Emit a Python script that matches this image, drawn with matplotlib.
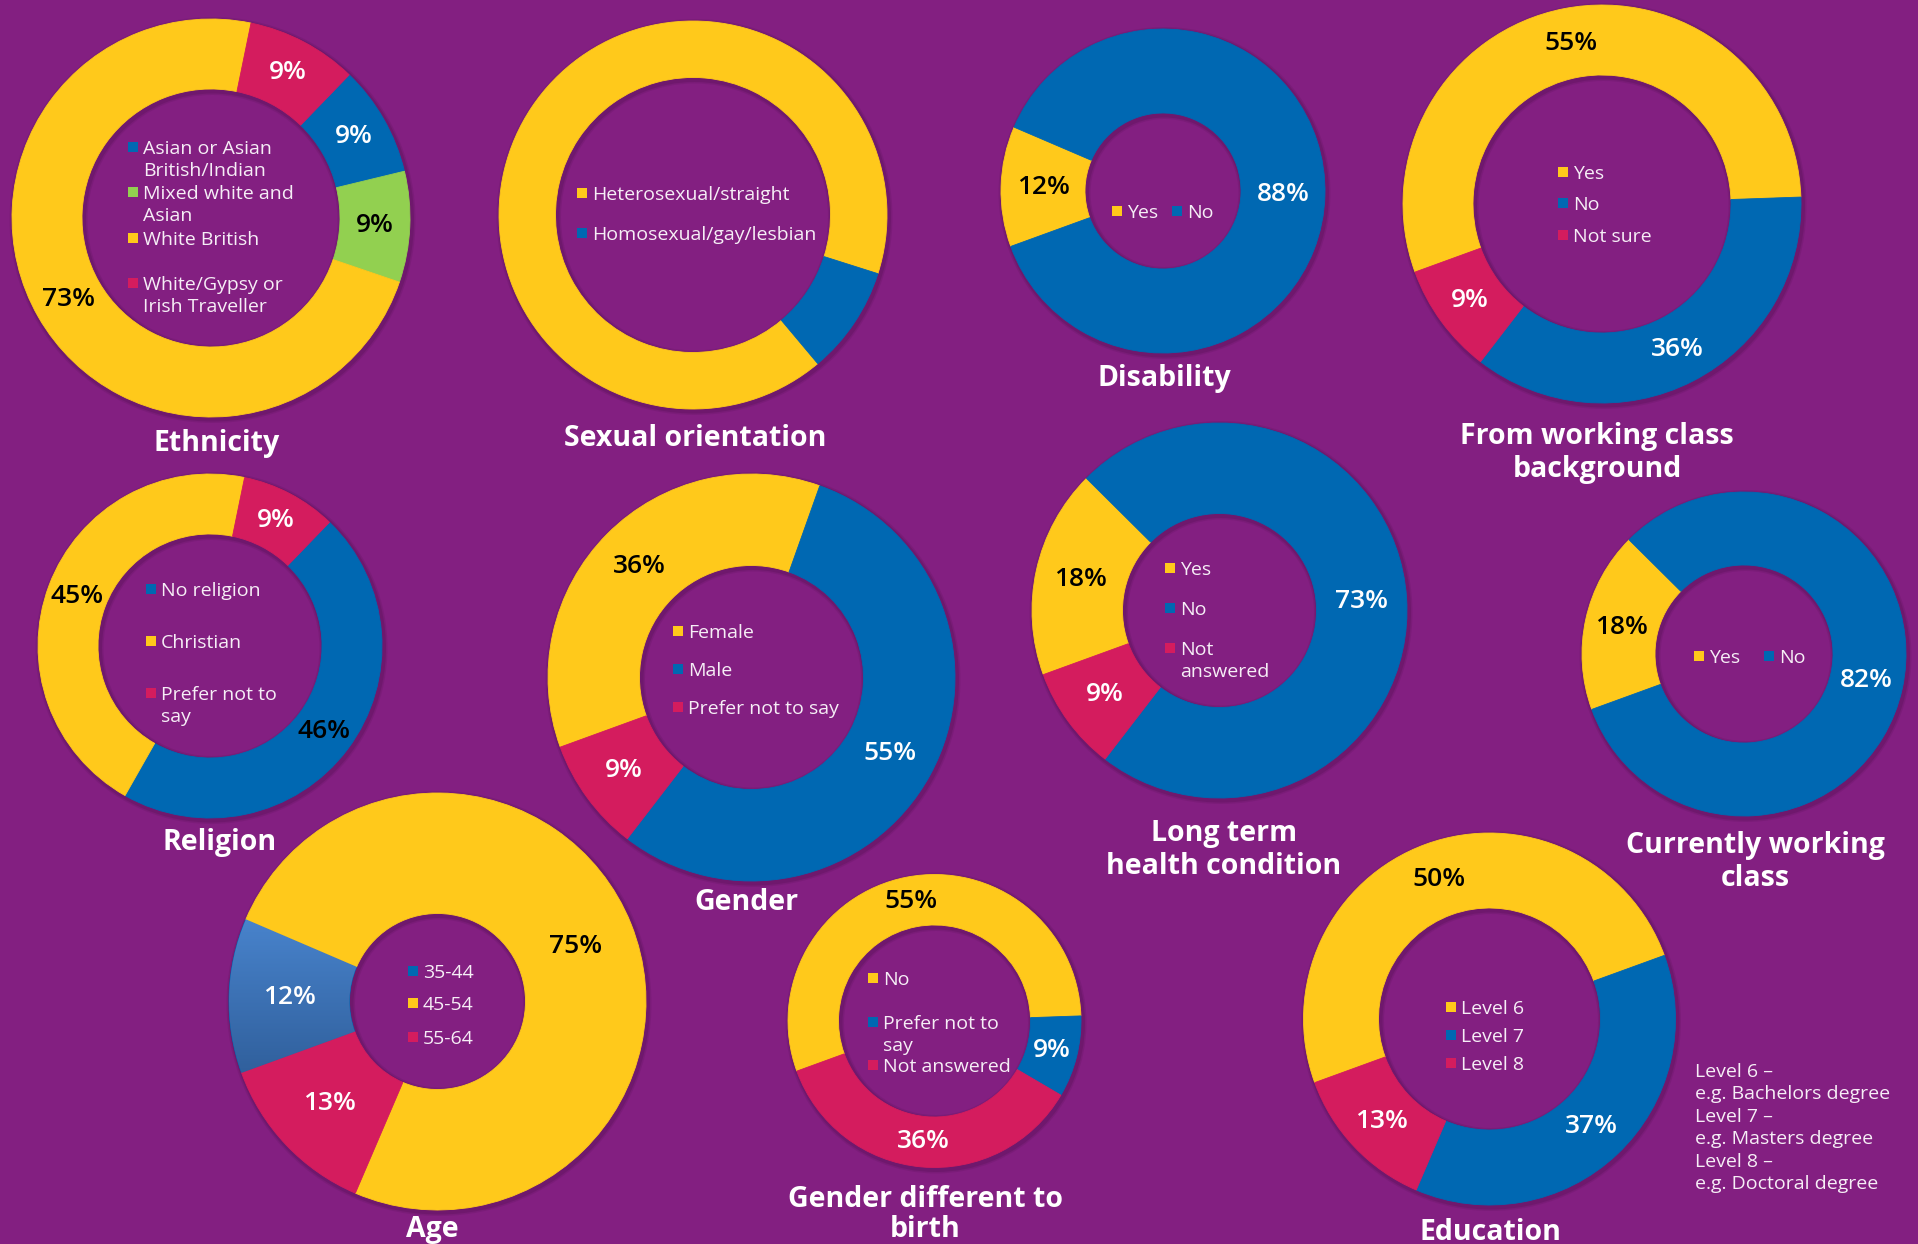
import numpy as np
import matplotlib
matplotlib.use("Agg")
import matplotlib.pyplot as plt
from matplotlib.patches import Rectangle, Wedge
from matplotlib.colors import LinearSegmentedColormap

plt.rcParams['font.family'] = ['Open Sans', 'DejaVu Sans']

W, H = 1918, 1244
BG = '#831f81'
YELLOW = '#ffc91b'
BLUE = '#0068b2'
RED = '#d41c5e'
GREEN = '#92d050'
TXT = '#f6eef6'

# ---- data (percent shares) ----
ethnicity_cats = ['Asian or Asian\nBritish/Indian', 'Mixed white and\nAsian', 'White British',
                  'White/Gypsy or\nIrish Traveller']
ethnicity_vals = [9, 9, 73, 9]

sexual_cats = ['Heterosexual/straight', 'Homosexual/gay/lesbian']
sexual_vals = [91, 9]

disability_cats = ['Yes', 'No']
disability_vals = [12, 88]

wc_background_cats = ['Yes', 'No', 'Not sure']
wc_background_vals = [55, 36, 9]

religion_cats = ['No religion', 'Christian', 'Prefer not to\nsay']
religion_vals = [46, 45, 9]

gender_cats = ['Female', 'Male', 'Prefer not to say']
gender_vals = [36, 55, 9]

health_cats = ['Yes', 'No', 'Not\nanswered']
health_vals = [18, 73, 9]

wc_current_cats = ['Yes', 'No']
wc_current_vals = [18, 82]

age_cats = ['35-44', '45-54', '55-64']
age_vals = [12, 75, 13]

gender_birth_cats = ['No', 'Prefer not to\nsay', 'Not answered']
gender_birth_vals = [55, 9, 36]

education_cats = ['Level 6', 'Level 7', 'Level 8']
education_vals = [50, 37, 13]

education_note = ['Level 6 \u2013', 'e.g. Bachelors degree', 'Level 7 \u2013',
                  'e.g. Masters degree', 'Level 8 \u2013', 'e.g. Doctoral degree']

# ---- layout (pixel positions of the original) ----
charts = [
    dict(title=['Ethnicity'], cats=ethnicity_cats, vals=ethnicity_vals,
         colors=[BLUE, GREEN, YELLOW, RED], pct=['w', 'k', 'k', 'w'],
         c=(211, 218), r=199, ri=129, start=44, tx=217, ty=440,
         lx=128, ly=[147, 192, 238, 283]),
    dict(title=['Sexual orientation'], cats=sexual_cats, vals=sexual_vals,
         colors=[YELLOW, BLUE], pct=None,
         c=(693, 215), r=194, ri=137.5, start=140, tx=695, ty=435,
         lx=577, ly=[193, 233]),
    dict(title=['Disability'], cats=disability_cats, vals=disability_vals,
         colors=[YELLOW, BLUE], pct=['k', 'w'],
         c=(1163, 191), r=162, ri=78, start=250, tx=1164, ty=375,
         lx=[1112, 1172], ly=211),
    dict(title=['From working class', 'background'], cats=wc_background_cats, vals=wc_background_vals,
         colors=[YELLOW, BLUE, RED], pct=['k', 'w', 'w'],
         c=(1602, 204), r=199, ri=129, start=250, tx=1597, ty=433,
         lx=1558, ly=[172, 203, 235]),
    dict(title=['Religion'], cats=religion_cats, vals=religion_vals,
         colors=[BLUE, YELLOW, RED], pct=['k', 'k', 'w'],
         c=(210, 646), r=172, ri=112, start=44, tx=220, ty=839,
         lx=146, ly=[589, 641, 693]),
    dict(title=['Gender'], cats=gender_cats, vals=gender_vals,
         colors=[YELLOW, BLUE, RED], pct=['k', 'w', 'w'],
         c=(751.5, 677.5), r=203.5, ri=112, start=250, tx=746, ty=899,
         lx=673, ly=[631, 669, 707]),
    dict(title=['Long term', 'health condition'], cats=health_cats, vals=health_vals,
         colors=[YELLOW, BLUE, RED], pct=['k', 'w', 'w'],
         c=(1219.5, 610.5), r=187.5, ri=97, start=250, tx=1224, ty=830,
         lx=1165, ly=[568, 608, 648]),
    dict(title=['Currently working', 'class'], cats=wc_current_cats, vals=wc_current_vals,
         colors=[YELLOW, BLUE], pct=['k', 'w'],
         c=(1744, 654), r=162, ri=89, start=250, tx=1755, ty=842,
         lx=[1694, 1764], ly=656),
    dict(title=['Age'], cats=age_cats, vals=age_vals,
         colors=[BLUE, YELLOW, RED], pct=['w', 'k', 'w'],
         c=(437.5, 1001.5), r=208.5, ri=88, start=250, tx=432, ty=1226,
         lx=408, ly=[971, 1003, 1037], gradient=0),
    dict(title=['Gender different to', 'birth'], cats=gender_birth_cats, vals=gender_birth_vals,
         colors=[YELLOW, BLUE, RED], pct=['k', 'w', 'w'],
         c=(934.5, 1021), r=146.5, ri=96, start=250, tx=925, ty=1196, ts=30,
         lx=868, ly=[978, 1022, 1065]),
    dict(title=['Education'], cats=education_cats, vals=education_vals,
         colors=[YELLOW, BLUE, RED], pct=['k', 'w', 'w'],
         c=(1489.5, 1019), r=186, ri=111, start=250, tx=1490, ty=1229,
         lx=1446, ly=[1007, 1035, 1063]),
]


def Y(y):
    return H - y


fig = plt.figure(figsize=(W / 100, H / 100), dpi=100, facecolor=BG)
ax = fig.add_axes([0, 0, 1, 1])
ax.set_facecolor(BG)

for ch in charts:
    cx, cy = ch['c']
    r, ri = ch['r'], ch['ri']

    # soft drop shadow behind the whole ring
    for d, a in [(4, 0.12), (2.5, 0.18)]:
        ax.add_patch(Wedge((cx + 1.5, Y(cy) - 2), r + d, 0, 360, width=r - ri + 2 * d,
                           facecolor='#3f0a3e', alpha=a, linewidth=0, zorder=0.5))

    wedges, _ = ax.pie(ch['vals'], colors=ch['colors'], startangle=90 - ch['start'],
                       counterclock=False, center=(cx, Y(cy)), radius=r,
                       wedgeprops=dict(width=r - ri, linewidth=0.6))
    for w in wedges:
        w.set_edgecolor(w.get_facecolor())

    if 'gradient' in ch:
        w = wedges[ch['gradient']]
        grad = np.linspace(0, 1, 256).reshape(-1, 1)
        cmap = LinearSegmentedColormap.from_list('g', ['#4a86d0', '#2f5e9a'])
        ext = (cx - r, cx, Y(cy + 80), Y(cy - 95))
        im = ax.imshow(grad, extent=ext, cmap=cmap, aspect='auto', zorder=w.get_zorder() + 0.1)
        im.set_clip_path(w)

    # percentage labels in the middle of each ring segment
    if ch['pct'] is not None:
        rm = (r + ri) / 2
        for wdg, v, col in zip(wedges, ch['vals'], ch['pct']):
            a = np.deg2rad((wdg.theta1 + wdg.theta2) / 2)
            ax.text(cx + rm * np.cos(a), Y(cy) + rm * np.sin(a), f'{v}%',
                    ha='center', va='center', fontsize=19, fontweight='semibold',
                    color='white' if col == 'w' else 'black', zorder=5)

    # legend inside the hole
    n = len(ch['cats'])
    xs = ch['lx'] if isinstance(ch['lx'], list) else [ch['lx']] * n
    ys = ch['ly'] if isinstance(ch['ly'], list) else [ch['ly']] * n
    for cat, col, x, y in zip(ch['cats'], ch['colors'], xs, ys):
        ax.add_patch(Rectangle((x, Y(y) - 5), 10, 10, facecolor=col, linewidth=0, zorder=5))
        for k, line in enumerate(cat.split('\n')):
            ax.text(x + 15, Y(y + 22 * k), line, ha='left', va='center_baseline',
                    fontsize=14, color=TXT, zorder=5)

    # title
    step = ch.get('ts', 33)
    for k, line in enumerate(ch['title']):
        ax.text(ch['tx'], Y(ch['ty'] + step * k), line, ha='center', va='center_baseline',
                fontsize=20.5, fontweight='bold', color='white', zorder=5)

for k, line in enumerate(education_note):
    ax.text(1695, Y(1070 + 22.4 * k), line, ha='left', va='center_baseline',
            fontsize=14, color=TXT)

ax.set_xlim(0, W)
ax.set_ylim(0, H)
ax.set_aspect('auto')
ax.axis('off')

fig.savefig('out.png', dpi=100, facecolor=BG)
